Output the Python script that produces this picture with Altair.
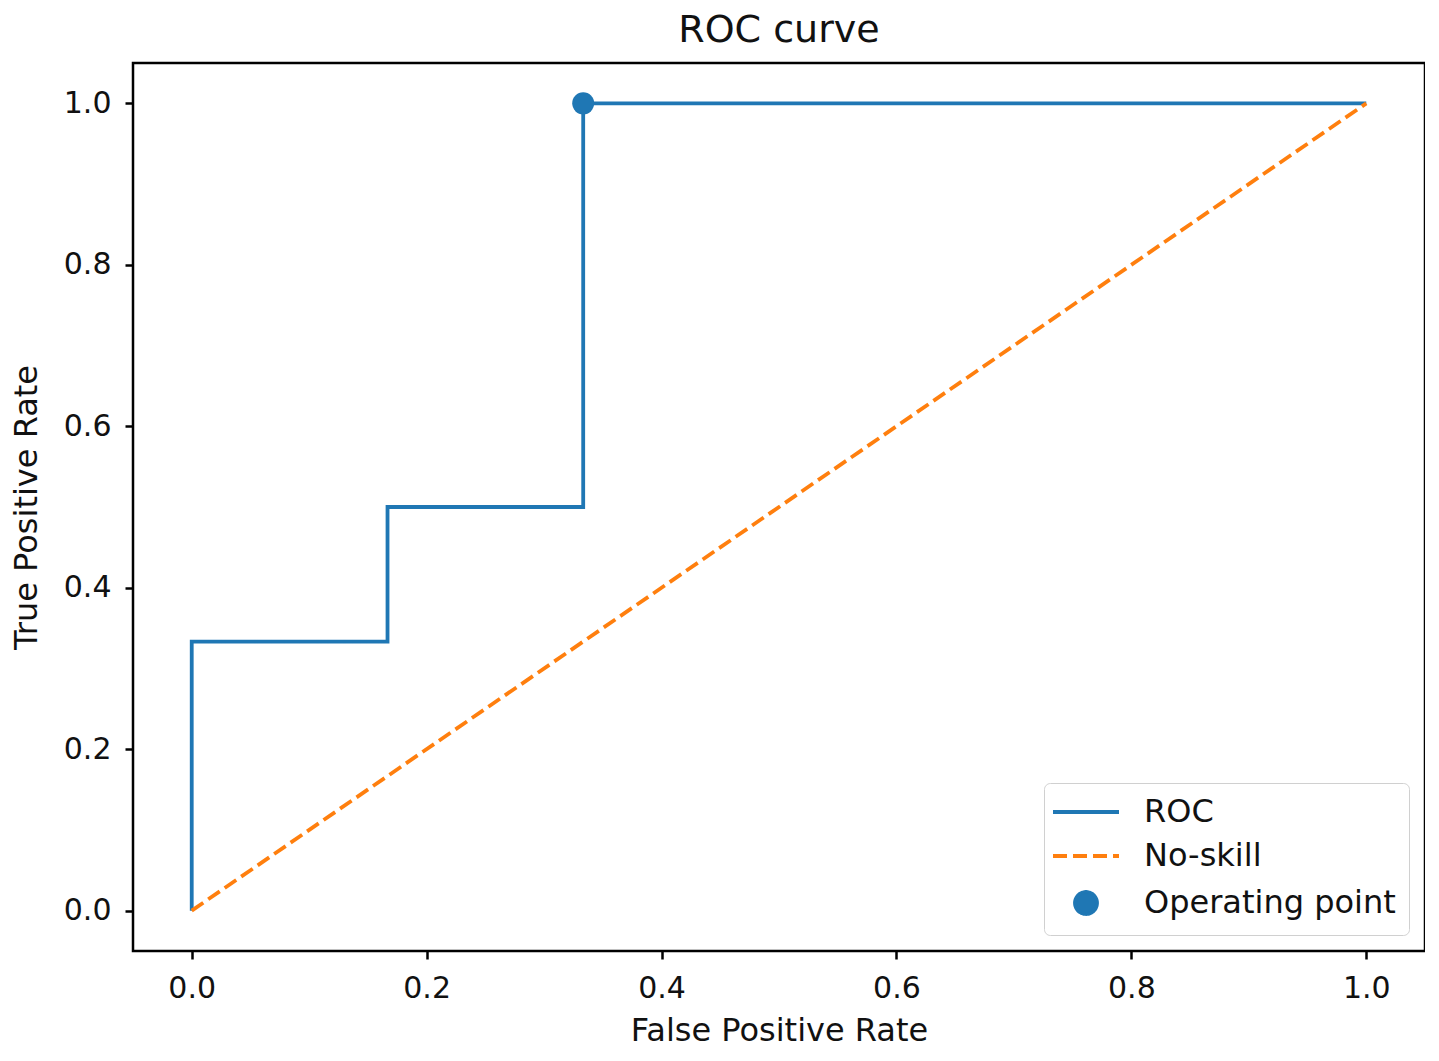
import altair as alt
import pandas as pd

# ROC vertices
roc_fpr = [0.0, 0.0, 0.1667, 0.1667, 0.3333, 0.3333, 1.0]
roc_tpr = [0.0, 0.3333, 0.3333, 0.5, 0.5, 1.0, 1.0]

# no-skill diagonal
ns_fpr = [0.0, 1.0]
ns_tpr = [0.0, 1.0]

# operating point
op_fpr = [0.3333]
op_tpr = [1.0]

series = ["ROC", "No-skill", "Operating point"]
colors = ["#1f77b4", "#ff7f0e", "#1f77b4"]

roc = pd.DataFrame({"fpr": roc_fpr, "tpr": roc_tpr, "series": "ROC", "i": range(len(roc_fpr))})
ns = pd.DataFrame({"fpr": ns_fpr, "tpr": ns_tpr, "series": "No-skill", "i": range(len(ns_fpr))})
op = pd.DataFrame({"fpr": op_fpr, "tpr": op_tpr, "series": "Operating point"})

ticks = [0.0, 0.2, 0.4, 0.6, 0.8, 1.0]

x = alt.X("fpr:Q", title="False Positive Rate",
          scale=alt.Scale(domain=[-0.05, 1.05], nice=False, zero=False),
          axis=alt.Axis(values=ticks, format=".1f", titlePadding=12))
y = alt.Y("tpr:Q", title="True Positive Rate",
          scale=alt.Scale(domain=[-0.05, 1.05], nice=False, zero=False),
          axis=alt.Axis(values=ticks, format=".1f", titlePadding=20))

color = alt.Color("series:N", title=None,
                  scale=alt.Scale(domain=series, range=colors),
                  legend=alt.Legend(orient="bottom-right", offset=16))
dash = alt.StrokeDash("series:N", title=None,
                      scale=alt.Scale(domain=series, range=[[1, 0], [14, 6], [1, 0]]))
shape = alt.Shape("series:N", title=None,
                  scale=alt.Scale(domain=series, range=["M-3,0H3", "M-3,0H3", "circle"]))

roc_line = alt.Chart(roc).mark_line(strokeWidth=3.8).encode(x=x, y=y, color=color, strokeDash=dash, order="i:Q")
ns_line = alt.Chart(ns).mark_line(strokeWidth=3.8).encode(x=x, y=y, color=color, strokeDash=dash, order="i:Q")
op_pt = alt.Chart(op).mark_point(filled=True, opacity=1, size=484).encode(x=x, y=y, color=color, shape=shape)

chart = alt.layer(roc_line, ns_line, op_pt).properties(
    width=1292, height=888,
    autosize=alt.AutoSizeParams(type="none"),
    padding={"left": 125, "top": 55, "right": 0, "bottom": 100},
    title=alt.Title("ROC curve", fontSize=38, fontWeight="normal", font="DejaVu Sans", offset=13, color="#111"),
).configure_view(
    stroke="black", strokeWidth=2.5
).configure_axis(
    grid=False, domain=False, ticks=True, tickColor="black", tickWidth=2.5, tickSize=8,
    labelFont="DejaVu Sans", labelFontSize=30, labelColor="#111", labelPadding=14,
    titleFont="DejaVu Sans", titleFontSize=32, titleFontWeight="normal", titleColor="#111",
).configure_legend(
    labelFont="DejaVu Sans", labelFontSize=32, labelColor="#111", labelOffset=42, labelLimit=400,
    symbolSize=484, symbolStrokeWidth=3.8, symbolOpacity=1, symbolOffset=13,
    fillColor="white", strokeColor="#d0d0d0", cornerRadius=6, padding=13,
    rowPadding=12,
)

chart.save("out.html", embed_options={"renderer": "svg", "actions": False})
